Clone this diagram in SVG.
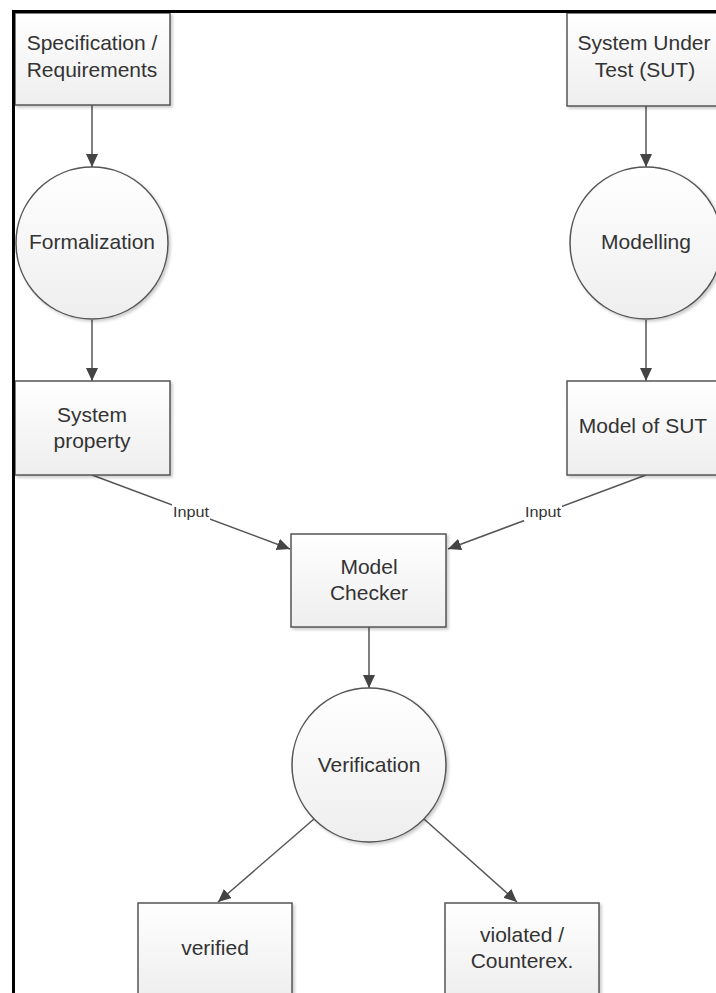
<svg xmlns="http://www.w3.org/2000/svg" width="716" height="993" viewBox="0 0 716 993">
  <defs>
    <linearGradient id="fillGrad" x1="0" y1="0" x2="0" y2="1">
      <stop offset="0" stop-color="#ffffff"/>
      <stop offset="1" stop-color="#eeeeee"/>
    </linearGradient>
    <filter id="shadow" x="-10%" y="-10%" width="130%" height="130%">
      <feDropShadow dx="2" dy="2" stdDeviation="1.5" flood-color="#000" flood-opacity="0.2"/>
    </filter>
    <marker id="arrow" markerUnits="userSpaceOnUse" markerWidth="14" markerHeight="12" refX="13" refY="6" orient="auto">
      <path d="M0,0 L13,6 L0,12 Z" fill="#444"/>
    </marker>
  </defs>
  <style>
    .shape { fill: url(#fillGrad); stroke: #555; stroke-width: 1.5; filter: url(#shadow); }
    .label { font-family: "Liberation Sans", Arial, sans-serif; font-size: 21px; fill: #333; text-anchor: middle; }
    .edge { stroke: #555; stroke-width: 1.5; fill: none; marker-end: url(#arrow); }
    .edge-label { font-family: "Liberation Sans", Arial, sans-serif; font-size: 15px; fill: #333; text-anchor: middle; }
    .frame { stroke: #000; stroke-width: 3; fill: none; }
  </style>

  <rect width="716" height="993" fill="#ffffff"/>

  <!-- connectors -->
  <g id="connectors">
    <line class="edge" x1="92" y1="105" x2="92" y2="167"/>
    <line class="edge" x1="92" y1="320" x2="92" y2="381"/>
    <line class="edge" x1="646" y1="106" x2="646" y2="167"/>
    <line class="edge" x1="646" y1="320" x2="646" y2="381"/>
    <line class="edge" x1="92" y1="475" x2="290" y2="549"/>
    <line class="edge" x1="646" y1="475" x2="448" y2="549"/>
    <line class="edge" x1="369" y1="627" x2="369" y2="688"/>
    <line class="edge" x1="314" y1="819" x2="218" y2="902"/>
    <line class="edge" x1="424" y1="819" x2="517" y2="902"/>
    <rect x="172" y="503" width="38" height="18" fill="#ffffff"/>
    <text class="edge-label" x="191" y="517" textLength="36" lengthAdjust="spacingAndGlyphs">Input</text>
    <rect x="524" y="503" width="38" height="18" fill="#ffffff"/>
    <text class="edge-label" x="543" y="517" textLength="36" lengthAdjust="spacingAndGlyphs">Input</text>
  </g>

  <g id="spec">
    <rect class="shape" x="15" y="13" width="155" height="92"/>
    <text class="label" x="92" y="50">Specification /</text>
    <text class="label" x="92" y="77">Requirements</text>
  </g>

  <g id="sut">
    <rect class="shape" x="567" y="13" width="158" height="93"/>
    <text class="label" x="644" y="50">System Under</text>
    <text class="label" x="645" y="77">Test (SUT)</text>
  </g>

  <g id="formalization">
    <circle class="shape" cx="92" cy="243" r="76"/>
    <text class="label" x="92" y="249">Formalization</text>
  </g>

  <g id="modelling">
    <circle class="shape" cx="646" cy="243" r="76"/>
    <text class="label" x="646" y="249">Modelling</text>
  </g>

  <g id="property">
    <rect class="shape" x="15" y="381" width="155" height="94"/>
    <text class="label" x="92" y="422">System</text>
    <text class="label" x="92" y="448">property</text>
  </g>

  <g id="model-sut">
    <rect class="shape" x="567" y="381" width="158" height="94"/>
    <text class="label" x="643" y="433">Model of SUT</text>
  </g>

  <g id="checker">
    <rect class="shape" x="291" y="534" width="155" height="93"/>
    <text class="label" x="369" y="574">Model</text>
    <text class="label" x="369" y="600">Checker</text>
  </g>

  <g id="verification">
    <circle class="shape" cx="369" cy="765" r="77"/>
    <text class="label" x="369" y="772">Verification</text>
  </g>

  <g id="verified">
    <rect class="shape" x="138" y="903" width="154" height="94"/>
    <text class="label" x="215" y="955">verified</text>
  </g>

  <g id="violated">
    <rect class="shape" x="445" y="903" width="154" height="94"/>
    <text class="label" x="522" y="942">violated /</text>
    <text class="label" x="522" y="968">Counterex.</text>
  </g>

  <!-- outer frame edges (top and left) -->
  <g id="frame">
    <line class="frame" x1="13.5" y1="11.5" x2="716" y2="11.5"/>
    <line class="frame" x1="13.5" y1="10" x2="13.5" y2="993"/>
  </g>
</svg>
